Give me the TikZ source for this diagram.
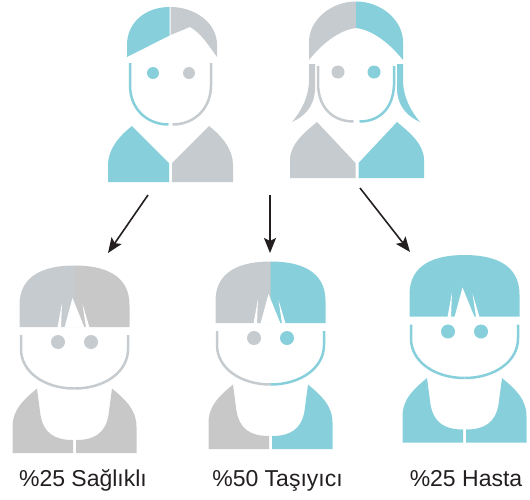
\documentclass[tikz,border=0pt]{standalone}
\usepackage{fontspec}
\setmainfont{Liberation Sans}
\usetikzlibrary{arrows.meta}
\definecolor{aqua}{RGB}{134,207,219}
\definecolor{slate}{RGB}{197,203,206}
\definecolor{ash}{RGB}{200,200,200}
\definecolor{ink}{RGB}{35,31,32}
\tikzset{
  outline/.style={line width=2.5pt},
  descent/.style={line width=1.6pt, draw=ink,
    -{Stealth[length=15pt,width=12pt,inset=3pt]}},
  caption/.style={font=\fontsize{23}{27}\selectfont, text=ink,
    anchor=base, inner sep=0pt},
}
% child figure: #1,#2 = centre of the hair's lower edge,
% #3/#4 hair colours, #5/#6 face and eye colours, #7/#8 body colours
\newcommand\drawkid[8]{%
 \begin{scope}[shift={(#1,#2)}]
  \fill[#3] (-55,0) -- (-55,-22) .. controls (-55,-52) and (-30,-61.5) .. (0,-61.5)
     -- (1,-61.5) -- (1,0) -- cycle;
  \fill[#4] (0,0) -- (0,-61.5) .. controls (30,-61.5) and (55,-52) .. (55,-22) -- (55,0) -- cycle;
  % fringe cut-outs
  \fill[white] (-2,-29) -- (-10,0.6) -- (10,0.6) -- cycle;
  \fill[white] (-12.5,-24) -- (-17,0.6) -- (-13.5,0.6) -- cycle;
  \fill[white] (8,-23) -- (11.5,0.6) -- (15,0.6) -- cycle;
  % face
  \draw[outline,#5] (-53.5,8) -- (-53.5,22) .. controls (-53.5,45) and (-30,61.5) .. (0,61.5);
  \draw[outline,#6] (0,61.5) .. controls (30,61.5) and (53.5,45) .. (53.5,22) -- (53.5,8);
  \fill[#5] (-16.5,15) circle[radius=7pt];
  \fill[#6] (16.5,15) circle[radius=7pt];
  % body
  \fill[#7] (-37.5,61.5) .. controls (-50,72) and (-62,82) .. (-62,100) -- (-62,126)
     -- (-1.5,126) -- (-1.5,113) .. controls (-20,113) and (-31,106) .. (-34,88) -- cycle;
  \fill[#8] (37.5,61.5) .. controls (50,72) and (62,82) .. (62,100) -- (62,126)
     -- (1.5,126) -- (1.5,113) .. controls (20,113) and (31,106) .. (34,88) -- cycle;
 \end{scope}}
\begin{document}
\begin{tikzpicture}[x=1pt,y=-1pt]
\useasboundingbox (0,0) rectangle (530,499);

% ---- father ----
\fill[aqua] (127,57) -- (127,45) .. controls (127,22) and (146,7) .. (169.5,7) -- (169.5,35.5) -- cycle;
\fill[slate] (170.5,7) .. controls (194,7) and (217,22) .. (217,45) -- (217,57)
   .. controls (209,46) and (201,33) .. (190,27) -- (170.5,35) -- cycle;
\draw[outline,aqua] (130,63) -- (130,85) .. controls (130,110) and (148,124.5) .. (168.5,124.5);
\draw[outline,slate] (172.5,124.5) .. controls (193,124.5) and (211,110) .. (211,85) -- (211,63);
\fill[aqua] (153,73) circle[radius=6pt];
\fill[slate] (189,73) circle[radius=6pt];
\fill[aqua] (132,126) .. controls (118,137) and (108,150) .. (108,165) -- (108,182)
   -- (169,182) -- (169,163) -- cycle;
\fill[slate] (209,126) .. controls (223,137) and (233,150) .. (233,165) -- (233,182)
   -- (172,182) -- (172,163) -- cycle;

% ---- mother ----
\fill[slate] (309,60) -- (309,42) .. controls (309,20) and (331,1.5) .. (356,1.5) -- (357,1.5) -- (357,28)
   -- (356,28) .. controls (338,30) and (320,46) .. (309,60) -- cycle;
\fill[aqua] (356,1.5) .. controls (381,1.5) and (403,20) .. (403,42) -- (403,60)
   .. controls (392,46) and (374,30) .. (356,28) -- cycle;
\fill[slate] (309,64) -- (309,80) .. controls (309,96) and (302,110) .. (292,122)
   .. controls (303,117) and (314,108) .. (315,90) -- (315,64) -- cycle;
\fill[aqua] (403,64) -- (403,80) .. controls (403,96) and (410,110) .. (420,122)
   .. controls (409,117) and (398,108) .. (397,90) -- (397,64) -- cycle;
\draw[outline,slate] (318,66) -- (318,85) .. controls (319,110) and (335,121.5) .. (353.5,121.5);
\draw[outline,aqua] (359.5,121.5) .. controls (378,121.5) and (393,110) .. (394,85) -- (394,66);
\fill[slate] (338,72) circle[radius=6.5pt];
\fill[aqua] (374,72) circle[radius=6.5pt];
\fill[slate] (317,122) .. controls (305,132) and (290,144) .. (290,160) -- (290,178)
   -- (355.5,178) -- (355.5,163) -- cycle;
\fill[aqua] (397,122) .. controls (409,132) and (424,144) .. (424,160) -- (424,178)
   -- (358.5,178) -- (358.5,163) -- cycle;

% ---- children ----
\drawkid{74.5}{327}{slate}{ash}{slate}{slate}{ash}{ash}
\drawkid{270.5}{323}{slate}{aqua}{slate}{aqua}{ash}{aqua}
\drawkid{464.5}{316.5}{aqua}{aqua}{aqua}{aqua}{aqua}{aqua}

% ---- arrows ----
\coordinate (fromL) at (148,195);
\coordinate (toL) at (108,253);
\coordinate (fromM) at (270,195);
\coordinate (toM) at (270,253);
\coordinate (fromR) at (360,188);
\coordinate (toR) at (410,252);
\draw[descent] (fromL) -- (toL);
\draw[descent] (fromM) -- (toM);
\draw[descent] (fromR) -- (toR);

% ---- captions ----
\node[caption] (healthy) at (83,486) {\%25 Sağlıklı};
\node[caption] (carrier) at (277.5,486) {\%50 Taşıyıcı};
\node[caption] (ill) at (466,486) {\%25 Hasta};
\end{tikzpicture}
\end{document}
